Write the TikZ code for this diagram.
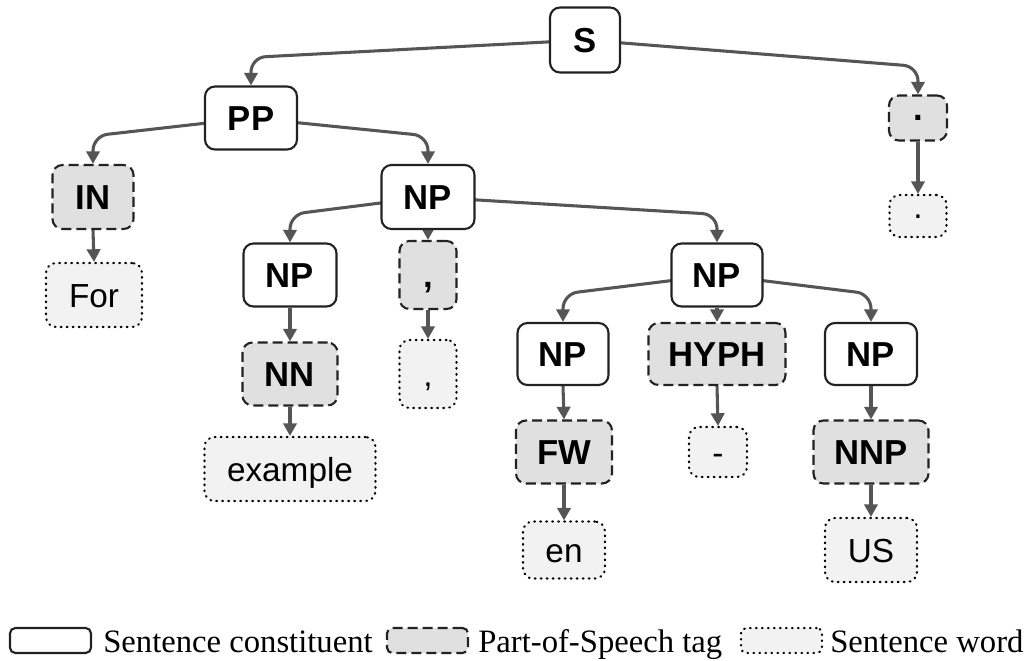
\documentclass[tikz,border=0pt]{standalone}
\usepackage{fontspec}
\setmainfont{Liberation Serif}
\newfontfamily\arialfont{Liberation Sans}
\usetikzlibrary{arrows.meta,backgrounds}
\definecolor{edgecol}{HTML}{555555}
\definecolor{bordercol}{HTML}{222222}
\definecolor{posfill}{HTML}{E0E0E0}
\definecolor{wordfill}{HTML}{F2F2F2}
\tikzset{
  box/.style 2 args={minimum width=#1*0.75pt, minimum height=#2*0.75pt,
    inner sep=0pt, rounded corners=7.5pt, line width=1.6pt, draw=bordercol,
    text height=18.6pt, text depth=0pt},
  constnode/.style={fill=white, font=\arialfont\bfseries\fontsize{26pt}{30pt}\selectfont},
  posnode/.style={fill=posfill, dash pattern=on 7.5pt off 3.75pt,
    font=\arialfont\bfseries\fontsize{26pt}{30pt}\selectfont},
  wordnode/.style={fill=wordfill, draw=black, dash pattern=on 0.6pt off 3.9pt, line cap=round,
    font=\arialfont\fontsize{25pt}{30pt}\selectfont},
  dottext/.style={text height=3.4pt},
  edge/.style={draw=edgecol, line width=2.3pt, rounded corners=11pt,
    -{Triangle[width=10pt,length=9.5pt]}},
  legbox/.style={rounded corners=4pt},
  legtext/.style={anchor=base west, inner sep=0pt, font=\fontsize{24.5pt}{30pt}\selectfont},
}
\begin{document}
\begin{tikzpicture}[x=0.75pt,y=-0.75pt]
\useasboundingbox (0,0) rectangle (1034,660);
% constituents
\node[box={70}{65},constnode] (S) at (585,40) {S};
\node[box={92}{63},constnode] (PP) at (251,118) {PP};
\node[box={93}{64},constnode] (NPa) at (428,197) {NP};
\node[box={93}{63},constnode] (NPb) at (290,275) {NP};
\node[box={91}{63},constnode] (NPc) at (717,275) {NP};
\node[box={91}{62},constnode] (NPd) at (563,354) {NP};
\node[box={92}{62},constnode] (NPe) at (871,354) {NP};
% POS tags
\node[box={58}{45},posnode,dottext] (PERtag) at (918,118) {.};
\node[box={81}{64},posnode] (IN) at (93,197) {IN};
\node[box={57}{68},posnode] (COMtag) at (428,275) {,};
\node[box={95}{63},posnode] (NN) at (290,374) {NN};
\node[box={137}{62},posnode] (HYPH) at (717,354) {HYPH};
\node[box={96}{63},posnode] (FW) at (564,452) {FW};
\node[box={115}{63},posnode] (NNP) at (871,452) {NNP};
% words
\node[box={57}{42},wordnode,dottext] (PERw) at (918,216) {.};
\node[box={96}{64},wordnode] (For) at (94,295) {For};
\node[box={57}{68},wordnode] (COMw) at (428,374) {,};
\node[box={171}{64},wordnode] (example) at (290,469) {example};
\node[box={58}{50},wordnode] (dash) at (718,452) {-};
\node[box={82}{57},wordnode] (en) at (564,550) {en};
\node[box={92}{64},wordnode] (US) at (871,550) {US};
% edges
\begin{scope}[on background layer]
\draw[edge] (S.center) -- ([yshift=21pt]PP.north) -- (PP.north);
\draw[edge] (S.center) -- ([yshift=21pt]PERtag.north) -- (PERtag.north);
\draw[edge] (PP.center) -- ([yshift=21pt]IN.north) -- (IN.north);
\draw[edge] (PP.center) -- ([yshift=21pt]NPa.north) -- (NPa.north);
\draw[edge] (NPa.center) -- ([yshift=21pt]NPb.north) -- (NPb.north);
\draw[edge] (NPa.south) -- (COMtag.north);
\draw[edge] (NPa.center) -- ([yshift=21pt]NPc.north) -- (NPc.north);
\draw[edge] (NPc.center) -- ([yshift=21pt]NPd.north) -- (NPd.north);
\draw[edge] (NPc.south) -- (HYPH.north);
\draw[edge] (NPc.center) -- ([yshift=21pt]NPe.north) -- (NPe.north);
\draw[edge] (PERtag.south) -- (PERw.north);
\draw[edge] (IN.south) -- (For.north);
\draw[edge] (NPb.south) -- (NN.north);
\draw[edge] (NN.south) -- (example.north);
\draw[edge] (COMtag.south) -- (COMw.north);
\draw[edge] (NPd.south) -- (FW.north);
\draw[edge] (FW.south) -- (en.north);
\draw[edge] (HYPH.south) -- (dash.north);
\draw[edge] (NPe.south) -- (NNP.north);
\draw[edge] (NNP.south) -- (US.north);
\end{scope}
% legend
\node[box={81}{25},constnode,legbox] (legC) at (50.5,640.5) {};
\node[legtext] (legCt) at (103,652) {Sentence constituent};
\node[box={81}{25},posnode,legbox] (legP) at (427.5,640.5) {};
\node[legtext] (legPt) at (478,652) {Part-of-Speech tag};
\node[box={81}{25},wordnode,legbox] (legW) at (781.5,640.5) {};
\node[legtext] (legWt) at (830,652) {Sentence word};
\end{tikzpicture}
\end{document}
